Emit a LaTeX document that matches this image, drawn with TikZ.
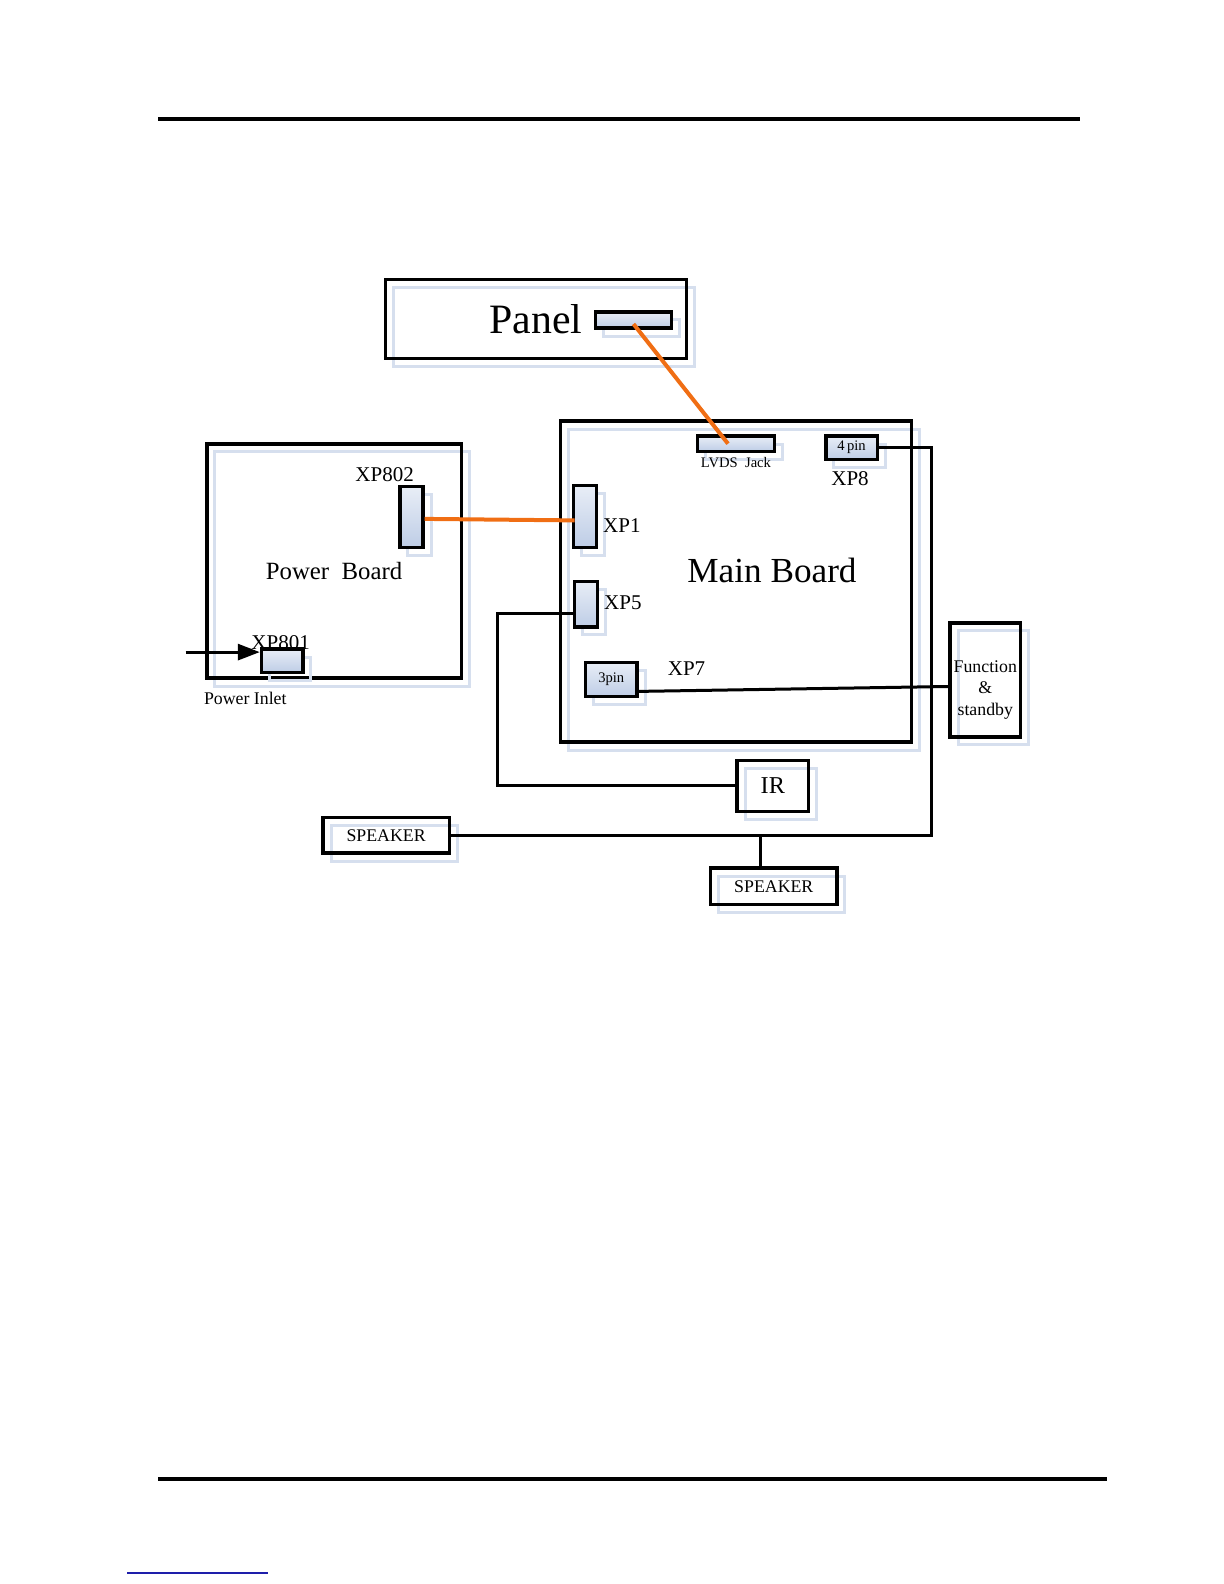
\documentclass[tikz,border=0pt]{standalone}
\usepackage{fontspec}
\setmainfont{Liberation Serif}
\usetikzlibrary{arrows.meta}

\definecolor{ghost}{RGB}{214,223,238}
\definecolor{jackfill}{RGB}{190,205,230}
\definecolor{hotwire}{RGB}{240,110,20}
\definecolor{linkblue}{RGB}{30,30,170}

\tikzset{
  box/.style={draw, line width=1.7pt, inner sep=0pt,
    preaction={draw=ghost, line width=1.5pt, transform canvas={shift={(4pt,-4pt)}}}},
  jack/.style={box, top color=jackfill!35!white, bottom color=jackfill},
  wire/.style={line width=1.5pt},
  hot/.style={line width=2pt, draw=hotwire},
  lbl/.style={font=\fontsize{10.5}{12}\selectfont, inner sep=0pt},
  small/.style={font=\fontsize{7.3}{8}\selectfont, inner sep=0pt},
  note/.style={font=\fontsize{8.9}{10.6}\selectfont, inner sep=0pt, align=center},
}

\begin{document}
\begin{tikzpicture}[x=0.5pt,y=-0.5pt]
  % page rules
  \draw[line width=1.6pt] (158,119) -- (1080,119);
  \draw[line width=1.6pt] (158,1479) -- (1107,1479);
  \draw[linkblue, line width=0.6pt] (127,1573) -- (268,1573);

  % boards
  \node[box, minimum width=150.4pt, minimum height=39.4pt, font=\fontsize{20.9}{24}\selectfont] (panel) at (536,319) {Panel};
  \node[box, minimum width=175.7pt, minimum height=160.5pt] (main) at (736,581.5) {};
  \node[box, minimum width=127.2pt, minimum height=117.1pt] (power) at (334,561) {};
  \node[font=\fontsize{17.6}{20}\selectfont, inner sep=0pt] (mainlbl) at (772,570) {Main Board};
  \node[font=\fontsize{12.4}{14}\selectfont, inner sep=0pt] (powerlbl) at (334,571) {Power\ \ Board};

  % connectors
  \node[jack, minimum width=37.9pt, minimum height=8.1pt] (pjack) at (633.5,320) {};
  \node[jack, minimum width=38.4pt, minimum height=7.6pt] (lvds) at (736,443.7) {};
  \node[jack, minimum width=25.7pt, minimum height=11.6pt, small] (pin4) at (851.5,447.7) {4\,pin};
  \node[jack, minimum width=11.6pt, minimum height=30.8pt] (xp1) at (585,516.4) {};
  \node[jack, minimum width=11.6pt, minimum height=22.7pt] (xp5) at (586,604.2) {};
  \node[jack, minimum width=25.7pt, minimum height=17.2pt, small] (pin3) at (611.3,679.4) {3pin};
  \node[jack, minimum width=11.6pt, minimum height=30.3pt] (xp802) at (411.4,516.9) {};
  \node[jack, minimum width=20.7pt, minimum height=11.6pt] (xp801) at (282.2,660.7) {};
  \node[small] (lvdslbl) at (736,462.4) {LVDS\ \ Jack};

  % outside parts
  \node[box, minimum width=35.3pt, minimum height=57pt] (func) at (985.3,679.9) {};
  \node[note] (funclbl) at (985.3,690) {Function\\\&\\standby};
  \node[box, minimum width=35.8pt, minimum height=25.7pt, font=\fontsize{12.1}{14}\selectfont] (ir) at (772.8,785.9) {IR};
  \node[box, minimum width=63.1pt, minimum height=17.7pt, note] (spkl) at (386.1,835.4) {SPEAKER};
  \node[box, minimum width=63.1pt, minimum height=18.2pt, note] (spkb) at (773.8,886.3) {SPEAKER};

  \foreach \n/\x/\y in {XP1/621.9/526, XP5/622.9/602.7, XP7/686.5/668.3, XP8/850/478.5, XP802/384.6/474.5, XP801/280.6/643}
    {\node[lbl] (l\n) at (\x,\y) {\n};}
  \node[note] (inletlbl) at (245.3,698.6) {Power Inlet};

  % wires
  \draw[hot] ([yshift=-2pt]pjack.center) -- ([xshift=-4pt]lvds.center);
  \draw[hot] ([yshift=-1pt]xp802.east) -- ([xshift=1.5pt,yshift=-2pt]xp1.west);
  \draw[wire] ([yshift=-4.5pt]xp5.west) -- ++(-75.7,0) |- (ir.west);
  \draw[wire] ([yshift=-6pt]pin3.east) -- ([yshift=-3.3pt]func.west);
  \draw[wire] (pin4.east) -- ++(52.5,0) coordinate (turn) |- (spkl.east);
  \draw[wire] ([xshift=-6.9pt]spkb.north) -- ([xshift=-6.9pt]spkb.north |- spkl.east);
  \coordinate (inlet) at (185.7,652.1);
  \draw[wire, -{Triangle[length=11pt,width=8pt]}] (inlet) -- (inlet -| xp801.west);

  % page size
  \pgfresetboundingbox
  \useasboundingbox (0,0) rectangle (1224,1584);
\end{tikzpicture}
\end{document}
